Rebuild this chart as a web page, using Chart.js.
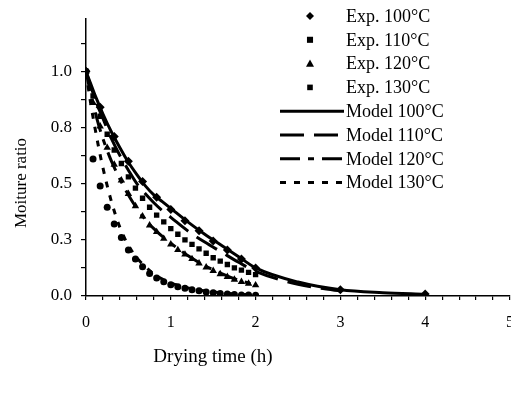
<!DOCTYPE html>
<html>
<head>
<meta charset="utf-8">
<script src="https://cdn.jsdelivr.net/npm/chart.js@4.4.1/dist/chart.umd.min.js"></script>
<style>
  html, body { margin: 0; padding: 0; background: #fff; width: 511px; height: 394px; overflow: hidden; }
  #wrap { width: 527px; height: 394px; position: relative; }
</style>
</head>
<body>
<div id="wrap"><canvas id="chart"></canvas></div>
<script>
// experimental readings, 5-minute steps for 110/120/130 and 10-minute steps for 100
const expTime100 = [0, 0.167, 0.333, 0.5, 0.667, 0.833, 1.0, 1.167, 1.333, 1.5, 1.667, 1.833, 2.0, 3.0, 4.0];
const exp100 = [1.0, 0.84, 0.71, 0.60, 0.51, 0.44, 0.385, 0.335, 0.29, 0.245, 0.205, 0.165, 0.125, 0.028, 0.009];

const expTime = [0, 0.083, 0.167, 0.25, 0.333, 0.417, 0.5, 0.583, 0.667, 0.75, 0.833, 0.917, 1.0,
  1.083, 1.167, 1.25, 1.333, 1.417, 1.5, 1.583, 1.667, 1.75, 1.833, 1.917, 2.0];
const exp110 = [1.0, 0.89, 0.80, 0.72, 0.65, 0.59, 0.53, 0.48, 0.435, 0.395, 0.36, 0.33, 0.30,
  0.275, 0.25, 0.23, 0.21, 0.19, 0.17, 0.155, 0.14, 0.125, 0.115, 0.105, 0.095];
const exp120 = [1.0, 0.86, 0.755, 0.66, 0.585, 0.515, 0.455, 0.40, 0.355, 0.315, 0.285, 0.255, 0.23,
  0.205, 0.185, 0.165, 0.145, 0.128, 0.112, 0.098, 0.085, 0.073, 0.063, 0.055, 0.048];
const exp130 = [1.0, 0.61, 0.49, 0.395, 0.32, 0.26, 0.205, 0.165, 0.13, 0.10, 0.08, 0.063, 0.05,
  0.041, 0.034, 0.028, 0.023, 0.018, 0.014, 0.011, 0.009, 0.007, 0.005, 0.004, 0.003];

// model curves
const modelTime = [0, 0.05, 0.1, 0.15, 0.2, 0.3, 0.4, 0.5, 0.6, 0.7, 0.8, 0.9, 1.0, 1.2, 1.4, 1.6, 1.8, 2.0, 2.5, 3.0, 3.5, 4.0];
const model100 = [1.0, 0.95, 0.90, 0.855, 0.81, 0.73, 0.66, 0.595, 0.54, 0.49, 0.45, 0.42, 0.39, 0.33, 0.275, 0.225, 0.175, 0.125, 0.062, 0.028, 0.015, 0.008];
const model110 = [1.0, 0.94, 0.885, 0.835, 0.79, 0.70, 0.625, 0.56, 0.50, 0.455, 0.415, 0.38, 0.35, 0.29, 0.24, 0.195, 0.15, 0.11, 0.052, 0.022];
const model120 = [1.0, 0.91, 0.83, 0.76, 0.70, 0.60, 0.52, 0.45, 0.39, 0.34, 0.30, 0.265, 0.235, 0.18, 0.135, 0.10, 0.07, 0.05];
const model130 = [1.0, 0.87, 0.76, 0.66, 0.57, 0.42, 0.305, 0.225, 0.17, 0.13, 0.098, 0.075, 0.058, 0.036, 0.023, 0.014, 0.008, 0.005];

const seriesLabels = ['Exp. 100°C', 'Exp. 110°C', 'Exp. 120°C', 'Exp. 130°C',
  'Model 100°C', 'Model 110°C', 'Model 120°C', 'Model 130°C'];
const xTitle = 'Drying time (h)';
const yTitle = 'Moiture ratio';
const xTickLabels = ['0', '1', '2', '3', '4', '5'];
const yTickValues = [0, 0.25, 0.5, 0.75, 1.0];
const yTickLabels = ['0.0', '0.3', '0.5', '0.8', '1.0'];

const FONT = '"Liberation Serif", "Times New Roman", serif';
Chart.defaults.color = '#000';
Chart.defaults.font.family = FONT;

const pairs = (xs, ys) => ys.map((y, i) => ({ x: xs[i], y }));

const expSet = (label, xs, ys, style, radius) => ({
  label, data: pairs(xs, ys), showLine: false,
  pointStyle: style, pointRadius: radius, pointHoverRadius: radius,
  backgroundColor: '#000', borderColor: '#000', borderWidth: 0
});
const modelSet = (label, ys, dash) => ({
  label, data: pairs(modelTime, ys), showLine: true, pointRadius: 0,
  borderColor: '#000', borderWidth: 3, borderDash: dash,
  cubicInterpolationMode: 'monotone', fill: false
});

// legend inside the plot (top right) and the two axis titles, placed as in the figure
const figureText = {
  id: 'figureText',
  afterDraw(chart) {
    const ctx = chart.ctx;
    ctx.save();
    ctx.fillStyle = '#000';
    ctx.strokeStyle = '#000';
    ctx.font = '18px ' + FONT;
    ctx.textBaseline = 'middle';
    chart.data.datasets.forEach((ds, i) => {
      const y = 16 + i * 23.8;
      if (ds.showLine) {
        ctx.lineWidth = ds.borderWidth;
        ctx.setLineDash(ds.borderDash || []);
        ctx.beginPath();
        ctx.moveTo(280, y);
        ctx.lineTo(344, y);
        ctx.stroke();
        ctx.setLineDash([]);
      } else {
        const r = Math.min(ds.pointRadius, 4);
        ctx.beginPath();
        if (ds.pointStyle === 'rectRot') {
          ctx.moveTo(310, y - r); ctx.lineTo(310 + r, y); ctx.lineTo(310, y + r); ctx.lineTo(310 - r, y);
        } else if (ds.pointStyle === 'triangle') {
          ctx.moveTo(310, y - r); ctx.lineTo(310 + r, y + r * 0.8); ctx.lineTo(310 - r, y + r * 0.8);
        } else {
          ctx.rect(310 - r * 0.8, y - r * 0.8, r * 1.6, r * 1.6);
        }
        ctx.closePath();
        ctx.fill();
      }
      ctx.textAlign = 'left';
      ctx.fillText(ds.label, 346, y + 1);
    });

    ctx.textAlign = 'center';
    ctx.font = '19px ' + FONT;
    ctx.fillText(xTitle, 213, 357);
    ctx.font = '17px ' + FONT;
    ctx.translate(22, 183);
    ctx.rotate(-Math.PI / 2);
    ctx.fillText(yTitle, 0, 0);
    ctx.restore();
  }
};

new Chart(document.getElementById('chart'), {
  type: 'scatter',
  data: {
    datasets: [
      expSet(seriesLabels[0], expTime100, exp100, 'rectRot', 4.5),
      expSet(seriesLabels[1], expTime, exp110, 'rect', 3.8),
      expSet(seriesLabels[2], expTime, exp120, 'triangle', 4.3),
      expSet(seriesLabels[3], expTime, exp130, 'circle', 3.5),
      modelSet(seriesLabels[4], model100, []),
      modelSet(seriesLabels[5], model110, [24, 10]),
      modelSet(seriesLabels[6], model120, [20, 8, 6, 8]),
      modelSet(seriesLabels[7], model130, [6, 8])
    ]
  },
  options: {
    responsive: true,
    maintainAspectRatio: false,
    animation: false,
    layout: { padding: { top: 15, right: 0, left: 0, bottom: 0 } },
    plugins: { legend: { display: false }, tooltip: { enabled: false } },
    scales: {
      x: {
        type: 'linear', min: 0, max: 5,
        afterBuildTicks: (scale) => {
          const t = [];
          for (let i = 0; i <= 25; i++) t.push({ value: i / 5 });
          scale.ticks = t;
        },
        afterFit: (scale) => { scale.height = 98; },
        border: { color: '#000', width: 1.5 },
        grid: { drawOnChartArea: false, drawTicks: true, tickLength: 4, color: '#000', lineWidth: 1.2 },
        ticks: {
          autoSkip: false, maxRotation: 0, padding: 13,
          font: { size: 16 },
          callback: (v) => {
            const r = Math.round(v);
            return Math.abs(v - r) < 1e-6 ? xTickLabels[r] : '';
          }
        }
      },
      y: {
        type: 'linear', min: 0, max: 1.232,
        afterBuildTicks: (scale) => {
          const t = [];
          for (let i = 0; i <= 9; i++) t.push({ value: i / 8 });
          scale.ticks = t;
        },
        afterFit: (scale) => { scale.width = 86; },
        border: { color: '#000', width: 1.5 },
        grid: { drawOnChartArea: false, drawTicks: true, tickLength: 5, color: '#000', lineWidth: 1.2 },
        ticks: {
          autoSkip: false, padding: 9,
          font: { size: 17 },
          callback: (v) => {
            const k = yTickValues.findIndex(t => Math.abs(t - v) < 1e-6);
            return k >= 0 ? yTickLabels[k] : '';
          }
        }
      }
    }
  },
  plugins: [figureText]
});
</script>
</body>
</html>
